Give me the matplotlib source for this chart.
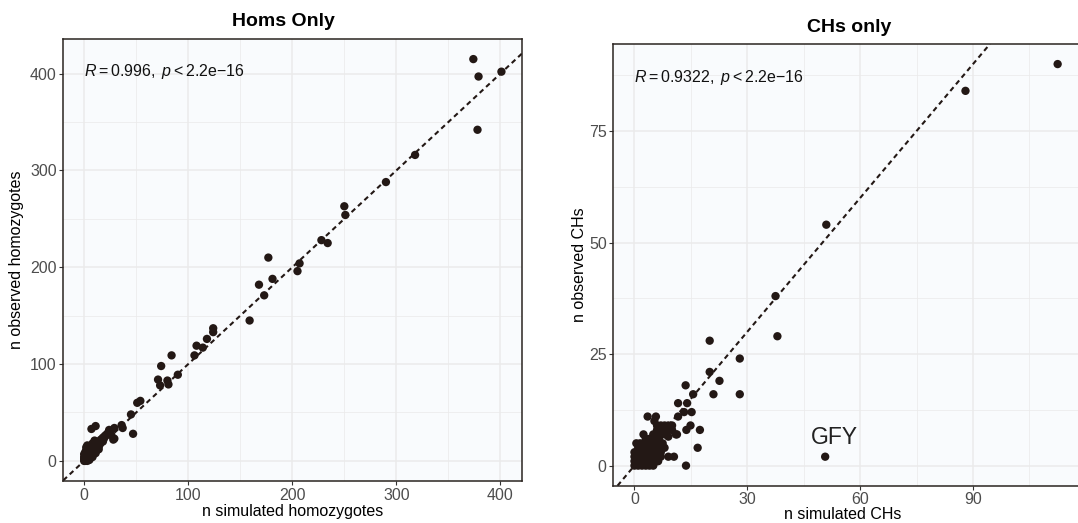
import numpy as np
import matplotlib.pyplot as plt
from matplotlib.ticker import MultipleLocator

plt.rcParams['font.family'] = ['Liberation Sans', 'DejaVu Sans']
plt.rcParams['mathtext.fontset'] = 'custom'
plt.rcParams['mathtext.rm'] = 'Liberation Sans'
plt.rcParams['mathtext.it'] = 'Liberation Sans:italic'

# --- Homs only: simulated vs observed homozygote counts ---
hom_sim = [374, 379, 401, 378, 318, 290, 250, 251, 228, 234, 207, 205, 177, 181,
           168, 173, 159, 124, 124, 118, 114, 108, 106, 84, 74, 90, 71, 73, 80, 81,
           54, 51, 45, 47, 36, 37, 29, 24, 29, 11, 7, 28, 18, 20, 22, 25, 26,
           0, 0, 0, 0, 1, 1, 1, 1, 2, 2, 2, 2, 3, 3, 3, 3, 4, 4, 4, 5, 5, 5,
           6, 6, 6, 7, 7, 7, 8, 8, 8, 9, 9, 10, 10, 11, 11, 12, 12, 13, 13,
           14, 14, 15, 16, 17, 18, 19, 2, 3, 5, 8, 10, 12, 14, 16]
hom_obs = [415, 397, 402, 342, 316, 288, 263, 254, 228, 225, 204, 196, 210, 188,
           182, 171, 145, 137, 133, 126, 117, 119, 109, 109, 98, 89, 84, 78, 83, 79,
           62, 60, 48, 28, 37, 34, 34, 32, 23, 36, 33, 22, 24, 26, 28, 30, 27,
           0, 2, 4, 7, 0, 3, 5, 9, 1, 4, 7, 11, 0, 3, 6, 13, 2, 5, 9, 1, 4, 8,
           3, 7, 12, 5, 9, 14, 4, 8, 12, 7, 11, 9, 14, 8, 13, 11, 16, 14, 18,
           15, 20, 17, 19, 21, 20, 23, 14, 16, 10, 18, 21, 15, 12, 22]

# --- CHs only: simulated vs observed compound heterozygote counts ---
ch_sim = [112.5, 88, 51, 37.5, 38, 20, 28, 20, 22.6, 21, 28, 13.6, 15.6, 11.6,
          14, 13.2, 15.2, 11.6, 14.9, 13.8, 17.4, 11, 16.8, 13.7, 50.7, 10.5, 9,
          6.3, 3.5, 5.7, 5.3, 2.4, 11.3,
          6, 7, 8, 9, 10, 6, 7, 8, 9, 10, 5, 7, 8, 6, 9,
          0, 1, 2, 3, 4, 5, 0, 1, 2, 3, 4, 5, 6, 0, 1, 2, 3, 4, 5, 6, 7,
          0, 1, 2, 3, 4, 5, 6, 7, 1, 2, 3, 4, 5, 6, 0.5, 1.5, 2.5, 3.5, 4.5, 5.5,
          7.5, 8, 6.5, 4, 3]
ch_obs = [90, 84, 54, 38, 29, 28, 24, 21, 19, 16, 16, 18, 16, 14,
          14, 12, 12, 11, 9, 8, 8, 7, 4, 0, 2, 2, 2,
          1, 11, 11, 10, 7, 7,
          9, 9, 9, 9, 9, 8, 8, 8, 8, 8, 7, 7, 7, 6, 6.5,
          0, 0, 0, 0, 0, 0, 1, 1, 1, 1, 1, 1, 1, 2, 2, 2, 2, 2, 2, 2, 2,
          3, 3, 3, 3, 3, 3, 3, 3, 4, 4, 4, 4, 4, 4, 5, 5, 5, 5, 5, 5,
          5, 4, 6, 6, 6]

hom_label = r"$R = 0.996,\ p < 2.2\mathrm{e}{-}16$"
ch_label = r"$R = 0.9322,\ p < 2.2\mathrm{e}{-}16$"

pt_col = '#231815'
panel_bg = '#F9FBFD'
grid_col = '#EBEBEB'


def expand(v):
    lo, hi = min(v), max(v)
    pad = 0.05 * (hi - lo)
    return lo - pad, hi + pad


def draw_panel(ax, xs, ys, xstep, ystep, label, label_y):
    ax.set_facecolor(panel_bg)
    ax.axline((0, 0), slope=1, color=pt_col, lw=1.5, ls=(0, (2.4, 1.8)), zorder=2)
    ax.scatter(xs, ys, s=36, color=pt_col, edgecolors='none', zorder=3)
    ax.set_xlim(*expand(xs))
    ax.set_ylim(*expand(ys))
    ax.xaxis.set_major_locator(MultipleLocator(xstep))
    ax.xaxis.set_minor_locator(MultipleLocator(xstep / 2))
    ax.yaxis.set_major_locator(MultipleLocator(ystep))
    ax.yaxis.set_minor_locator(MultipleLocator(ystep / 2))
    ax.grid(which='major', color=grid_col, lw=1.1)
    ax.grid(which='minor', color=grid_col, lw=0.55)
    ax.set_axisbelow(True)
    ax.tick_params(which='major', direction='out', length=2.6, width=0.8,
                   color='#333333', labelsize=11.5, labelcolor='#4D4D4D', pad=2.2)
    ax.tick_params(which='minor', length=0)
    for sp in ax.spines.values():
        sp.set_color('#2a2420')
        sp.set_linewidth(1.1)
    ax.text(0, label_y, label, fontsize=11.5, color='#111111', ha='left', va='center')


W, H = 1078, 523
fig = plt.figure(figsize=(W / 100, H / 100), dpi=100)

# left panel
ax1 = fig.add_axes([63.3 / W, 1 - 481 / H, 459 / W, 442 / H])
draw_panel(ax1, hom_sim, hom_obs, 100, 100, hom_label, 402)
fig.text(283 / W, 1 - 22 / H, "Homs Only", fontsize=14, fontweight='bold',
         ha='center', va='center')
fig.text(292.5 / W, 1 - 511.5 / H, "n simulated homozygotes", fontsize=11.5,
         ha='center', va='center')
fig.text(17 / W, 1 - 260 / H, "n observed homozygotes", fontsize=11.5,
         ha='center', va='center', rotation=90)

# right panel (cut off at the right edge of the image)
ax2 = fig.add_axes([613.3 / W, 1 - 485.7 / H, 465.5 / W, 441.7 / H])
draw_panel(ax2, ch_sim, ch_obs, 30, 25, ch_label, 87)
ax2.spines['right'].set_visible(False)
ax2.text(53.2, 6.4, "GFY", fontsize=16.5, color='#222222', ha='center', va='center')
fig.text(849 / W, 1 - 27 / H, "CHs only", fontsize=14, fontweight='bold',
         ha='center', va='center')
fig.text(843 / W, 1 - 514.5 / H, "n simulated CHs", fontsize=11.5,
         ha='center', va='center')
fig.text(579 / W, 1 - 265 / H, "n observed CHs", fontsize=11.5,
         ha='center', va='center', rotation=90)

plt.savefig("out.png", dpi=100)
